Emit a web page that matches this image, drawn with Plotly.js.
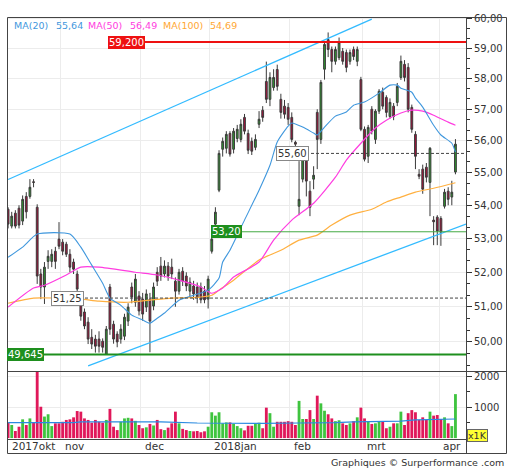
<!DOCTYPE html>
<html><head><meta charset="utf-8">
<script src="https://cdn.plot.ly/plotly-3.0.1.min.js"></script>
<style>html,body{margin:0;padding:0;background:#fff}#chart{width:512px;height:470px}</style>
</head><body><div id="chart"></div>
<script>
const openP = [53.88,53.37,53.76,53.91,53.52,54.27,54.27,54.72,53.94,51.95,
51.57,52.32,52.32,52.62,52.98,52.89,52.83,52.53,52.3,51.95,
51.31,50.85,50.56,50.13,50.08,50.08,50.02,49.66,51.57,50.5,
50.22,50.08,50.16,50.59,51.57,51.13,51.31,51.22,50.99,51.22,
51.02,52.0,52.18,51.95,52.18,52.15,51.74,51.45,52.03,51.89,
51.45,51.6,51.57,51.57,51.45,51.22,52.62,53.43,54.46,55.73,
55.76,56.23,55.73,56.07,56.04,56.74,56.23,55.98,55.79,56.52,
56.97,57.9,57.32,57.7,58.29,57.32,57.1,57.06,56.74,55.95,
53.97,54.8,55.36,54.43,54.8,56.9,56.04,58.3,59.28,58.95,
58.56,58.68,58.89,58.85,58.56,58.95,58.56,57.96,56.36,55.51,
57.0,56.04,56.94,57.55,57.38,56.77,57.1,57.22,58.03,58.46,
58.36,57.06,56.2,54.95,55.11,55.17,54.7,53.55,53.64,53.6,
53.97,54.43,54.25,55.02];
const highP = [53.94,53.8,53.85,54.0,54.3,54.4,54.8,54.8,54.03,52.1,
52.3,52.65,52.68,52.75,53.49,52.98,52.9,52.68,52.4,52.05,
51.45,50.95,50.7,50.36,50.2,50.3,50.1,50.45,51.66,50.6,
50.3,50.5,50.8,51.1,51.7,51.95,51.45,51.4,51.5,51.4,
51.7,52.15,52.45,52.35,52.3,52.4,51.85,52.1,52.15,52.0,
51.85,51.75,51.7,51.7,51.6,51.9,53.1,53.94,55.7,56.1,
56.3,56.3,56.4,56.5,56.68,56.85,56.35,56.1,56.2,56.94,
57.1,58.55,58.2,58.3,58.45,57.5,57.3,57.2,56.9,56.0,
55.36,55.55,55.5,54.74,55.2,57.0,57.95,59.2,59.52,59.05,
59.05,59.35,59.0,58.95,58.95,59.05,59.05,58.05,56.45,56.5,
57.1,57.0,57.65,57.7,57.45,57.35,57.2,57.85,58.75,58.6,
58.5,57.15,56.3,55.11,55.25,55.3,55.8,53.67,53.7,53.67,
54.5,54.55,54.75,56.05];
const lowP = [53.3,53.3,53.3,53.3,53.4,53.6,54.2,54.55,51.66,51.22,
51.08,52.1,52.15,52.1,52.68,52.5,52.45,52.0,51.95,51.37,
50.6,50.36,49.94,49.8,49.7,49.7,49.7,49.645,50.2,49.95,
49.85,49.95,50.05,50.45,51.1,51.0,50.75,50.6,50.85,49.71,
50.9,51.6,51.75,51.85,51.75,51.8,51.0,51.35,51.6,51.45,
51.3,51.2,51.1,51.1,51.1,50.95,52.55,53.04,54.4,55.5,
55.6,55.5,55.6,55.95,55.95,56.2,55.58,55.55,55.7,56.4,
56.6,57.2,57.1,57.6,57.6,56.7,56.7,56.5,55.95,55.75,
53.7,54.7,54.27,53.67,54.49,55.11,55.9,57.96,58.7,58.2,
58.45,58.6,58.45,58.2,58.45,58.6,58.4,56.3,55.35,55.3,
56.2,55.9,56.85,57.0,56.74,56.7,56.65,57.1,57.95,57.9,
56.9,56.25,55.11,54.8,54.35,54.7,53.67,52.8,52.8,52.78,
53.9,54.0,54.0,54.95];
const closeP = [53.43,53.67,53.37,53.4,54.18,53.8,54.55,54.7,51.89,51.57,
52.15,52.47,52.53,52.32,52.77,52.62,52.53,52.15,52.09,51.51,
50.73,50.45,50.08,49.94,49.88,49.88,49.85,50.36,50.36,50.08,
50.0,50.36,50.7,50.99,51.28,51.8,50.88,50.79,51.37,50.59,
51.57,51.74,51.89,52.18,51.89,51.95,51.45,52.0,51.74,51.6,
51.71,51.37,51.28,51.2,51.2,51.8,52.98,53.79,55.6,55.98,
56.2,55.58,56.3,56.36,56.52,56.3,55.7,55.67,56.04,56.68,
56.74,57.32,58.03,58.03,57.74,56.9,56.84,56.68,56.04,55.89,
54.18,55.42,54.74,53.94,54.92,56.04,57.87,59.12,58.95,58.56,
58.95,59.18,58.56,58.36,58.85,58.72,58.95,56.36,55.42,56.42,
56.3,56.94,57.58,57.1,56.9,57.22,56.77,57.74,58.56,58.03,
57.0,56.36,55.51,54.89,54.49,54.86,55.76,53.5,53.22,53.19,
54.4,54.18,54.4,55.89];
const volume = [500,425,230,370,610,425,640,500,2170,1020,
700,775,390,480,480,530,590,610,675,880,
860,640,590,500,590,530,500,590,950,370,
260,530,640,660,640,560,425,320,350,460,
410,590,290,260,340,480,860,480,300,260,
230,220,230,190,220,370,840,730,840,480,
510,510,460,390,320,250,400,400,480,500,
320,990,810,370,530,530,530,550,530,425,
1210,620,620,910,620,1380,1130,890,775,640,
550,580,480,425,480,550,675,990,640,530,
460,480,530,550,320,370,480,480,860,425,
810,910,840,590,675,590,860,730,750,620,
675,480,390,1430];

const ma20X = [0,4,8,17,20,23,26,28,31,34,37,39,41,43,47,51,55,58,59,61,65,69,72,74,77,78,81,84,85,87,90,93,95,98,102,105,107,108,111,112,114,117,119,122,123];
const ma20Y = [52.44,52.74,53.13,53.13,52.74,52.21,51.68,51.25,51.04,50.76,50.62,50.53,50.67,50.82,51.19,51.33,51.48,51.83,52.30,52.65,53.55,54.46,55.23,55.96,56.46,56.56,56.43,56.24,56.18,56.43,56.78,56.91,57.13,57.23,57.52,57.78,57.78,57.68,57.55,57.36,57.07,56.49,56.18,55.92,55.64];
const ma50X = [0,7,10,16,20,25,35,41,47,53,56,59,62,69,73,78,84,90,93,97,101,104,108,111,114,117,121,123];
const ma50Y = [50.99,51.54,51.62,51.92,52.15,52.15,52.00,51.92,51.77,51.57,51.39,51.54,51.86,52.30,52.95,53.55,54.06,54.86,55.39,55.92,56.40,56.65,56.88,56.97,56.94,56.81,56.59,56.49];
const ma100X = [0,7,13,20,25,33,39,45,53,56,58,62,69,75,80,85,89,94,100,104,108,112,117,123];
const ma100Y = [51.10,51.25,51.25,51.22,51.16,51.13,51.19,51.25,51.28,51.33,51.48,51.77,52.36,52.65,52.95,53.10,53.40,53.70,53.88,54.10,54.25,54.40,54.52,54.69];
const volMaX = [0,18,20,42,52,60,70,80,90,95,108,112,123];
const volMaY = [500,500,530,530,490,480,480,490,500,530,550,590,620];
const chanUpX = [0,100], chanUpY = [54.79,59.97];
const chanLoX = [22,125.9], chanLoY = [49.33,53.43];

const monthGrid = [14.5,36.5,55.5,77.5,97.5,118.5];
const monthLabelX = [0.5,15,37,56,78,98,119];
const monthLabels = ['2017okt','nov','dec','2018jan','feb','mrt','apr'];
const priceTicks = [50,51,52,53,54,55,56,57,58,59,60];
const legendNames = ['MA(20)','55,64','MA(50)','56,49','MA(100)','54,69'];
const levels = {resist:59.2, support:49.645, green:53.2, dash1:55.6, dash2:51.25};

const W=512,H=470;
const px=v=>v/W, py=v=>1-v/H;
const idx = openP.map((_,i)=>i);
const fmt=(v,d)=>v.toFixed(d).replace('.',',');

const traces = [
 {type:'candlestick', x:idx, open:openP, high:highP, low:lowP, close:closeP, xaxis:'x', yaxis:'y',
  increasing:{line:{color:'#3a3a3a',width:1}, fillcolor:'#2f9a2f'},
  decreasing:{line:{color:'#3a3a3a',width:1}, fillcolor:'#a8123d'}, whiskerwidth:0, hoverinfo:'skip'},
 {type:'scatter', mode:'lines', x:chanUpX, y:chanUpY, line:{color:'#33bbff',width:1.3}, hoverinfo:'skip'},
 {type:'scatter', mode:'lines', x:chanLoX, y:chanLoY, line:{color:'#33bbff',width:1.3}, hoverinfo:'skip'},
 {type:'scatter', mode:'lines', x:ma100X, y:ma100Y, line:{color:'#ffb040',width:1.2,shape:'spline',smoothing:0.6}, hoverinfo:'skip'},
 {type:'scatter', mode:'lines', x:ma50X, y:ma50Y, line:{color:'#ff3ce0',width:1.2,shape:'spline',smoothing:0.6}, hoverinfo:'skip'},
 {type:'scatter', mode:'lines', x:ma20X, y:ma20Y, line:{color:'#3f97dd',width:1.1,shape:'spline',smoothing:0.6}, hoverinfo:'skip'},
 {type:'bar', x:idx, y:volume, xaxis:'x2', yaxis:'y2', width:0.78,
  marker:{color: closeP.map((c,i)=> c>=openP[i] ? '#3fc43f' : '#e0185a'), line:{width:0}}, hoverinfo:'skip'},
 {type:'scatter', mode:'lines', x:volMaX, y:volMaY, xaxis:'x2', yaxis:'y2', line:{color:'#2a8ae0',width:1.2}, hoverinfo:'skip'}
];

const minorTicks = [];
for (let k=49;k<60;k++){ minorTicks.push(k+1/3, k+2/3); }

const shapes = [
 {type:'line', xref:'paper', yref:'y', x0:px(143), x1:px(466), y0:levels.resist, y1:levels.resist, line:{color:'#ee1111',width:2}},
 {type:'line', xref:'paper', yref:'y', x0:px(40), x1:px(466), y0:levels.support, y1:levels.support, line:{color:'#1e8f1e',width:2}},
 {type:'line', xref:'paper', yref:'y', x0:px(240), x1:px(466), y0:levels.green, y1:levels.green, line:{color:'#44aa44',width:1}},
 {type:'line', xref:'paper', yref:'y', x0:px(306), x1:px(466), y0:levels.dash1, y1:levels.dash1, line:{color:'#444',width:1,dash:'3px,2px'}},
 {type:'line', xref:'paper', yref:'y', x0:px(80), x1:px(466), y0:levels.dash2, y1:levels.dash2, line:{color:'#444',width:1,dash:'3px,2px'}},
 {type:'rect', xref:'paper', yref:'paper', x0:px(7.5), x1:px(506.5), y0:py(453.5), y1:py(17.5), line:{color:'#444',width:1}},
 {type:'line', xref:'paper', yref:'paper', x0:px(466.5), x1:px(466.5), y0:py(17.5), y1:py(453.5), line:{color:'#444',width:1}},
 {type:'line', xref:'paper', yref:'paper', x0:px(7.5), x1:px(506.5), y0:py(371.5), y1:py(371.5), line:{color:'#444',width:1}},
 {type:'line', xref:'paper', yref:'paper', x0:px(7.5), x1:px(466.5), y0:py(439.5), y1:py(439.5), line:{color:'#444',width:1}}
];

const annotations = [];
const lvlLabel=(x,val,txt,bg,fc,bc)=>annotations.push({xref:'paper',yref:'y',x:px(x),y:Math.log10(val),xanchor:'left',yanchor:'middle',
  text:txt,showarrow:false,bgcolor:bg,bordercolor:bc,borderwidth:bc?1:0,borderpad:1,font:{color:fc,size:10,family:'DejaVu Sans'}});
lvlLabel(108,levels.resist,fmt(levels.resist,3),'#ee1111','#fff',null);
lvlLabel(7,levels.support,fmt(levels.support,3),'#1e8f1e','#fff',null);
lvlLabel(211,levels.green,fmt(levels.green,2),'#1e8f1e','#fff',null);
lvlLabel(276,levels.dash1,fmt(levels.dash1,2),'#fff','#333','#888');
lvlLabel(51,levels.dash2,fmt(levels.dash2,2),'#fff','#333','#888');

const legX=[12,54,86,128,161,208], legC=['#3f97dd','#3f97dd','#ff3ce0','#ff3ce0','#ffa733','#ffa733'];
legendNames.forEach((t,k)=>annotations.push({xref:'paper',yref:'paper',x:px(legX[k]),y:py(25),xanchor:'left',yanchor:'middle',
  text:t,showarrow:false,font:{color:legC[k],size:9.5,family:'DejaVu Sans'}}));
monthLabels.forEach((t,k)=>annotations.push({xref:'x',yref:'paper',x:monthLabelX[k],y:py(446),xanchor:'left',yanchor:'middle',
  text:t,showarrow:false,font:{color:'#333',size:10.5,family:'DejaVu Sans'}}));
annotations.push({xref:'paper',yref:'paper',x:px(467),y:py(435.5),xanchor:'left',yanchor:'middle',text:'x1K',showarrow:false,
  bgcolor:'#ffff33',bordercolor:'#666',borderwidth:1,borderpad:0,font:{color:'#333',size:9.5,family:'DejaVu Sans'}});
annotations.push({xref:'paper',yref:'paper',x:px(506),y:py(462),xanchor:'right',yanchor:'middle',text:'Graphiques © Surperformance .com',
  showarrow:false,font:{color:'#333',size:9.5,family:'DejaVu Sans'}});

const xCommon = {domain:[px(7),px(466)], range:[-0.3,125.9], tickmode:'array', tickvals:monthGrid, showticklabels:false, ticks:'',
  showgrid:true, gridcolor:'#ececec', gridwidth:1, zeroline:false, showline:false, fixedrange:true, rangeslider:{visible:false}};
const layout = {
 width:W, height:H, margin:{l:0,r:0,t:0,b:0}, paper_bgcolor:'#fff', plot_bgcolor:'#fff', separators:',.', showlegend:false,
 font:{family:'DejaVu Sans, Verdana, sans-serif', size:10, color:'#333'},
 xaxis:Object.assign({anchor:'y'}, xCommon),
 xaxis2:Object.assign({anchor:'y2', matches:'x'}, xCommon),
 yaxis:{domain:[py(372),py(17)], type:'log', range:[Math.log10(49.16),Math.log10(60.04)], side:'right', anchor:'x',
   tickmode:'array', tickvals:priceTicks, ticktext:priceTicks.map(v=>fmt(v,2)), ticks:'outside', ticklen:5, tickcolor:'#333',
   showgrid:true, gridcolor:'#ececec', zeroline:false, showline:false, fixedrange:true,
   tickfont:{size:10,color:'#333'},
   minor:{tickmode:'array', tickvals:minorTicks, ticks:'outside', ticklen:3, tickcolor:'#333', showgrid:false}},
 yaxis2:{domain:[py(439),py(372)], range:[-30,2150], side:'right', anchor:'x2', tickmode:'array', tickvals:[1000,2000],
   ticks:'outside', ticklen:5, tickcolor:'#333', showgrid:true, gridcolor:'#ececec', zeroline:false, showline:false, fixedrange:true,
   tickfont:{size:10,color:'#333'},
   minor:{tickmode:'array', tickvals:[500,1500], ticks:'outside', ticklen:3, tickcolor:'#333', showgrid:false}},
 shapes:shapes, annotations:annotations
};
Plotly.newPlot('chart', traces, layout, {staticPlot:true, displayModeBar:false});
</script></body></html>
